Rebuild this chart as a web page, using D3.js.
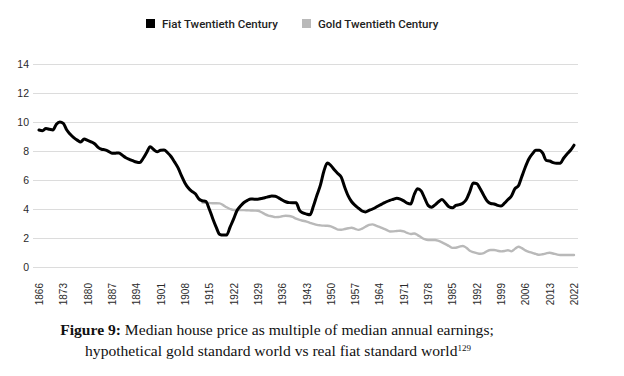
<!DOCTYPE html>
<html>
<head>
<meta charset="utf-8">
<script src="https://cdn.jsdelivr.net/npm/d3@7"></script>
<style>
  body { margin: 0; background: #fff; }
  svg { display: block; }
</style>
</head>
<body>
<div id="chart"></div>
<script>
// categories (the source sheet skips two years before 2022)
const years = d3.range(1866, 2020).concat([2022]);
const tickYears = [1866, 1873, 1880, 1887, 1894, 1901, 1908, 1915, 1922, 1929, 1936, 1943,
                   1950, 1957, 1964, 1971, 1978, 1985, 1992, 1999, 2006, 2013, 2022];
const yTicks = [0, 2, 4, 6, 8, 10, 12, 14];
const seriesNames = ["Fiat Twentieth Century", "Gold Twentieth Century"];

// house price / earnings, one value per category
const fiat = [
  9.45, 9.4, 9.55, 9.5, 9.45, 9.85, 10.0, 9.9, 9.45, 9.15,
  8.92, 8.75, 8.62, 8.82, 8.73, 8.63, 8.5, 8.25, 8.12, 8.08,
  7.98, 7.84, 7.85, 7.86, 7.7, 7.53, 7.43, 7.33, 7.24, 7.2,
  7.5, 7.9, 8.3, 8.1, 7.95, 8.05, 8.07, 7.88, 7.62, 7.25,
  6.85, 6.3, 5.8, 5.45, 5.22, 5.05, 4.7, 4.57, 4.52, 4.0,
  3.35, 2.75, 2.25, 2.2, 2.2, 2.75, 3.3, 3.9, 4.2, 4.45,
  4.6, 4.69, 4.68, 4.68, 4.73, 4.78, 4.84, 4.9, 4.88, 4.77,
  4.62, 4.5, 4.44, 4.43, 4.43, 3.9, 3.73, 3.65, 3.6, 4.2,
  4.95, 5.65, 6.6, 7.17, 7.0, 6.7, 6.45, 6.2, 5.5, 4.9,
  4.5, 4.25, 4.05, 3.86, 3.8, 3.9, 4.0, 4.12, 4.26, 4.38,
  4.5, 4.6, 4.67, 4.74, 4.68, 4.56, 4.4, 4.35, 5.0, 5.4,
  5.25, 4.75, 4.25, 4.12, 4.28, 4.5, 4.65, 4.42, 4.15, 4.08,
  4.25, 4.3, 4.4, 4.65, 5.2, 5.8, 5.75, 5.4, 4.95, 4.55,
  4.38, 4.35, 4.25, 4.2, 4.4, 4.65, 4.9, 5.4, 5.6, 6.25,
  6.9, 7.45, 7.8, 8.05, 8.06, 7.85, 7.35, 7.31, 7.2, 7.15,
  7.15, 7.5, 7.8, 8.05, 8.4
];

// gold series only starts in 1913
const goldStart = 1913;
const gold = [
  4.45, 4.42, 4.41, 4.4, 4.4, 4.39, 4.27, 4.12, 4.0, 3.93,
  3.93, 3.92, 3.92, 3.91, 3.9, 3.89, 3.88, 3.78, 3.65, 3.55,
  3.5, 3.44, 3.45, 3.5, 3.53, 3.52, 3.45, 3.33, 3.25, 3.19,
  3.13, 3.05, 2.97, 2.9, 2.87, 2.85, 2.84, 2.8, 2.7, 2.58,
  2.57, 2.62, 2.67, 2.71, 2.63, 2.56, 2.65, 2.78, 2.9, 2.94,
  2.85, 2.76, 2.66, 2.56, 2.45, 2.46, 2.48, 2.5, 2.45, 2.35,
  2.28, 2.31, 2.2, 2.05, 1.92, 1.86, 1.86, 1.86, 1.8, 1.7,
  1.58, 1.45, 1.32, 1.33, 1.4, 1.45, 1.33, 1.12, 1.03, 0.96,
  0.91, 0.95, 1.1, 1.17, 1.17, 1.12, 1.08, 1.1, 1.16, 1.08,
  1.25, 1.4, 1.3, 1.15, 1.05, 0.98, 0.9, 0.84, 0.88, 0.94,
  0.98, 0.93, 0.87, 0.83, 0.83, 0.83, 0.83, 0.83
];

const width = 624, height = 376;
const colors = ["#000000", "#b9b9b9"];

const svg = d3.select("#chart").append("svg")
    .attr("width", width)
    .attr("height", height)
    .style("background", "#fff");

const xScale = d3.scalePoint()
    .domain(years)
    .range([39, 574]);

const yScale = d3.scaleLinear()
    .domain([0, 14])
    .range([267, 64]);

// grid + y labels
const yAxis = svg.append("g")
    .attr("transform", "translate(33, 0)")
    .call(d3.axisLeft(yScale).tickValues(yTicks).tickSize(-545).tickPadding(4).tickFormat(d3.format("d")));
yAxis.select(".domain").remove();
yAxis.selectAll(".tick line").attr("stroke", "#dcdcdc").attr("stroke-width", 1.2);
yAxis.selectAll(".tick text")
    .attr("fill", "#2a2a2a")
    .style("font-family", "'Liberation Sans', Arial, sans-serif")
    .style("font-size", "10.5px");

// x labels
const xAxis = svg.append("g")
    .attr("transform", "translate(0, 279)")
    .call(d3.axisBottom(xScale).tickValues(tickYears).tickSize(0).tickPadding(0));
xAxis.select(".domain").remove();
xAxis.selectAll(".tick text")
    .attr("fill", "#2a2a2a")
    .style("font-family", "'Liberation Sans', Arial, sans-serif")
    .style("font-size", "10px")
    .attr("text-anchor", "end")
    .attr("transform", "rotate(-90)")
    .attr("x", -4)
    .attr("y", 0)
    .attr("dy", "0.35em");

const line = d3.line()
    .x((d) => xScale(d[0]))
    .y((d) => yScale(d[1]))
    .curve(d3.curveMonotoneX);

const fiatData = years.map((y, i) => [y, fiat[i]]);
const goldIdx = years.indexOf(goldStart);
const goldData = gold.map((v, i) => [years[goldIdx + i], v]);

svg.append("path")
    .datum(goldData)
    .attr("fill", "none")
    .attr("stroke", colors[1])
    .attr("stroke-width", 2.4)
    .attr("stroke-linejoin", "round")
    .attr("stroke-linecap", "round")
    .attr("d", line);

svg.append("path")
    .datum(fiatData)
    .attr("fill", "none")
    .attr("stroke", colors[0])
    .attr("stroke-width", 3)
    .attr("stroke-linejoin", "round")
    .attr("stroke-linecap", "round")
    .attr("d", line);

// legend
const legendX = [146, 302];
const legend = svg.append("g");
seriesNames.forEach((name, i) => {
    legend.append("rect")
        .attr("x", legendX[i])
        .attr("y", 19)
        .attr("width", 9)
        .attr("height", 9)
        .attr("fill", colors[i]);
    legend.append("text")
        .attr("x", legendX[i] + 16)
        .attr("y", 27.5)
        .attr("fill", "#222")
        .style("font-family", "Roboto, 'Liberation Sans', sans-serif")
        .style("font-weight", 500)
        .style("font-size", "11.5px")
        .text(name);
});

// caption
const caption = svg.append("g")
    .style("font-family", "'Liberation Serif', 'Times New Roman', serif")
    .style("font-size", "15.6px")
    .attr("fill", "#111");

const line1 = caption.append("text")
    .attr("x", 277)
    .attr("y", 335)
    .attr("text-anchor", "middle");
line1.append("tspan").style("font-weight", "bold").text("Figure 9:");
line1.append("tspan").text(" Median house price as multiple of median annual earnings;");

const line2 = caption.append("text")
    .attr("x", 278)
    .attr("y", 356)
    .attr("text-anchor", "middle");
line2.append("tspan").text("hypothetical gold standard world vs real fiat standard world");
line2.append("tspan").attr("dy", -5).style("font-size", "9px").text("129");
</script>
</body>
</html>
